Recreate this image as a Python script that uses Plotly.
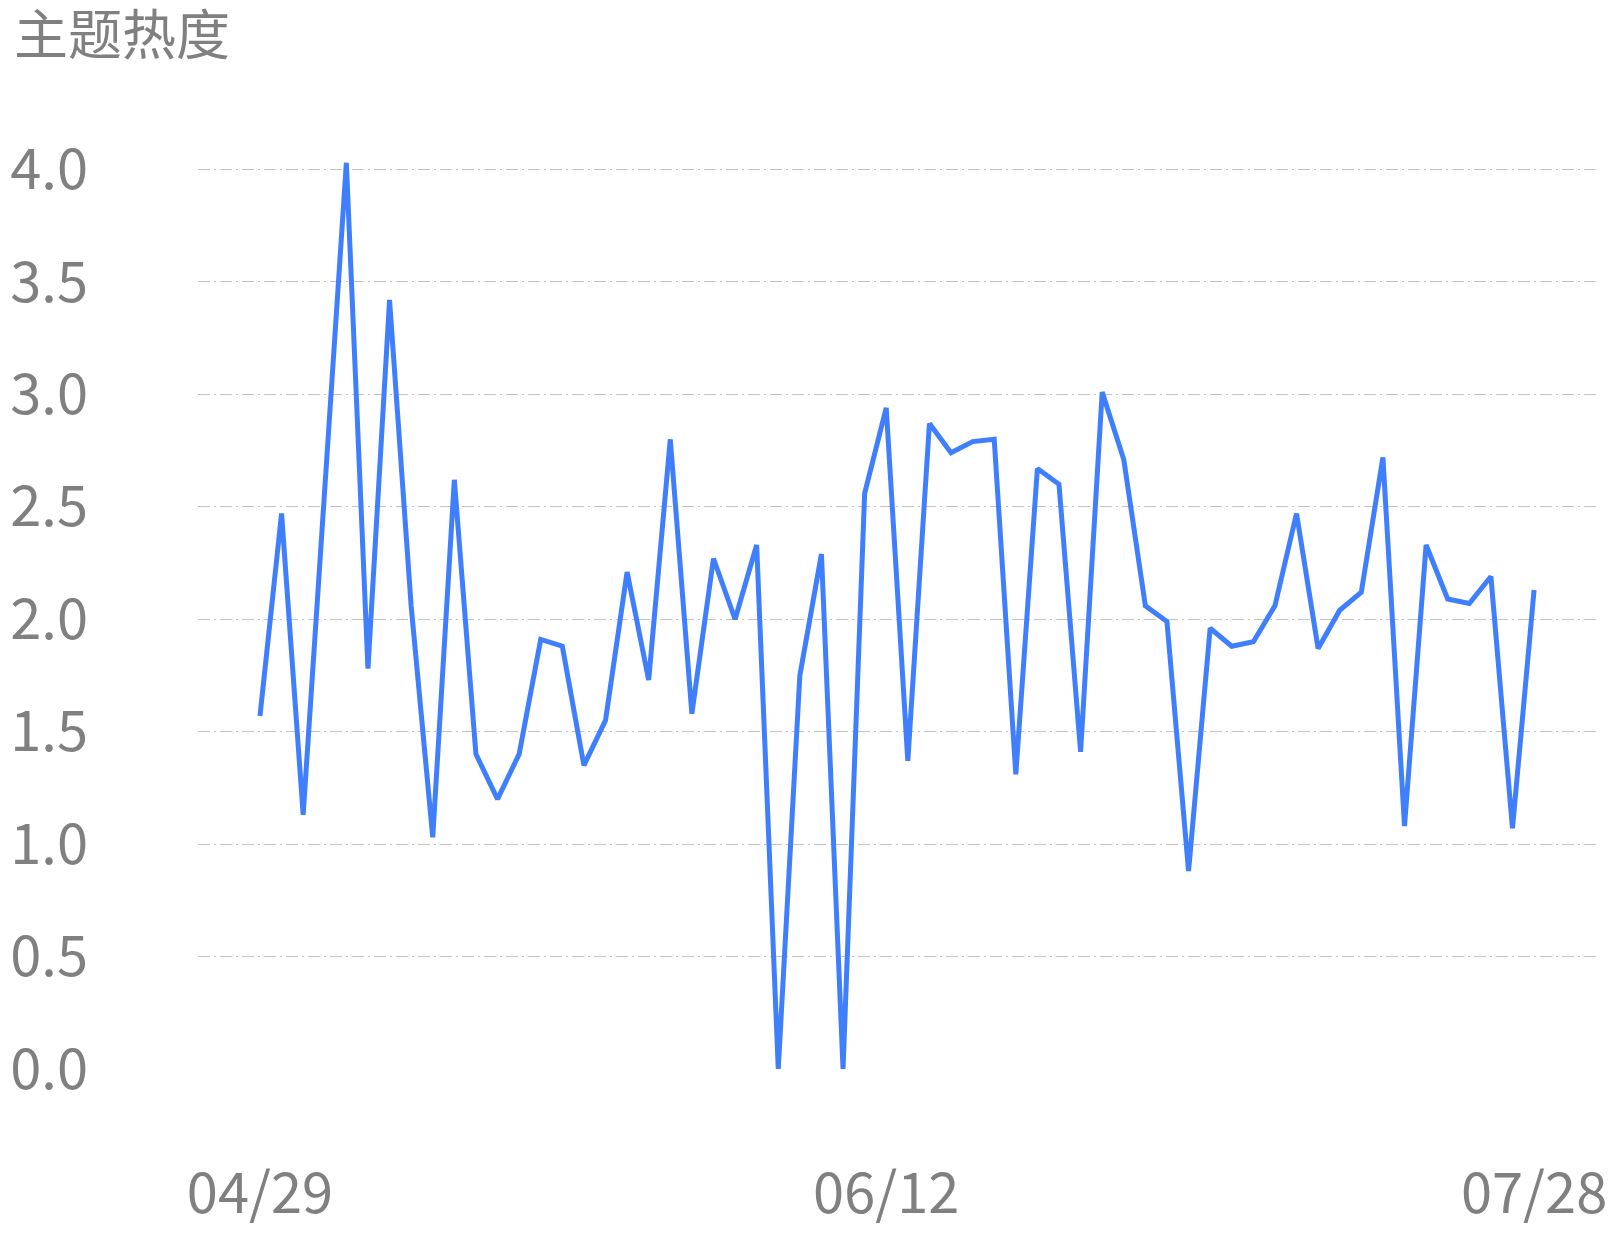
import plotly.graph_objects as go

# ---- data ----
heat_values = [
    1.57, 2.47, 1.13, 2.58, 4.03, 1.78, 3.42, 2.06, 1.03, 2.62,
    1.40, 1.20, 1.40, 1.91, 1.88, 1.35, 1.55, 2.21, 1.73, 2.80,
    1.58, 2.27, 2.00, 2.33, 0.00, 1.75, 2.29, 0.00, 2.56, 2.94,
    1.37, 2.87, 2.74, 2.79, 2.80, 1.31, 2.67, 2.60, 1.41, 3.01,
    2.71, 2.06, 1.99, 0.88, 1.96, 1.88, 1.90, 2.06, 2.47, 1.87,
    2.04, 2.12, 2.72, 1.08, 2.33, 2.09, 2.07, 2.19, 1.07, 2.13,
]
point_index = list(range(len(heat_values)))
x_tick_positions = [0, 29, 59]
x_tick_labels = ["04/29", "06/12", "07/28"]
y_tick_values = [0, 0.5, 1.0, 1.5, 2.0, 2.5, 3.0, 3.5, 4.0]
y_tick_labels = ["0.0", "0.5", "1.0", "1.5", "2.0", "2.5", "3.0", "3.5", "4.0"]
title_text = "主题热度"

FONT = "Noto Sans CJK SC, Noto Sans, sans-serif"
GRAY = "#808080"

W, H = 1618, 1236

fig = go.Figure()
fig.add_trace(go.Scatter(
    x=point_index,
    y=heat_values,
    mode="lines",
    line=dict(color="#3f7ffe", width=5),
    hoverinfo="skip",
    showlegend=False,
    cliponaxis=False,
))

fig.update_layout(
    width=W,
    height=H,
    autosize=False,
    paper_bgcolor="white",
    plot_bgcolor="white",
    margin=dict(l=198, r=20, t=146.5, b=166.5, pad=0, autoexpand=False),
    title=dict(
        text=title_text,
        font=dict(family=FONT, size=54, color=GRAY),
        xref="container", yref="container",
        x=14 / W, y=1 - 17 / H,
        xanchor="left", yanchor="top",
    ),
    xaxis=dict(
        range=[-2.87, 61.96],
        automargin=False,
        showgrid=False,
        zeroline=False,
        showline=False,
        ticks="",
        tickmode="array",
        tickvals=x_tick_positions,
        ticktext=x_tick_labels,
        tickfont=dict(family=FONT, size=56, color=GRAY),
        ticklabelstandoff=87,
    ),
    yaxis=dict(
        range=[0, 4.1],
        automargin=False,
        showgrid=True,
        gridcolor="#c4c4c4",
        gridwidth=1.4,
        griddash="12px,4px,2px,4px",
        zeroline=False,
        showline=False,
        ticks="",
        tickmode="array",
        tickvals=y_tick_values,
        ticktext=y_tick_labels,
        tickfont=dict(family=FONT, size=56, color=GRAY),
        ticklabelstandoff=109,
    ),
)

fig.write_html(
    "out.html",
    config={"displayModeBar": False},
    post_script="document.body.style.margin='0';document.body.style.overflow='hidden';",
)
